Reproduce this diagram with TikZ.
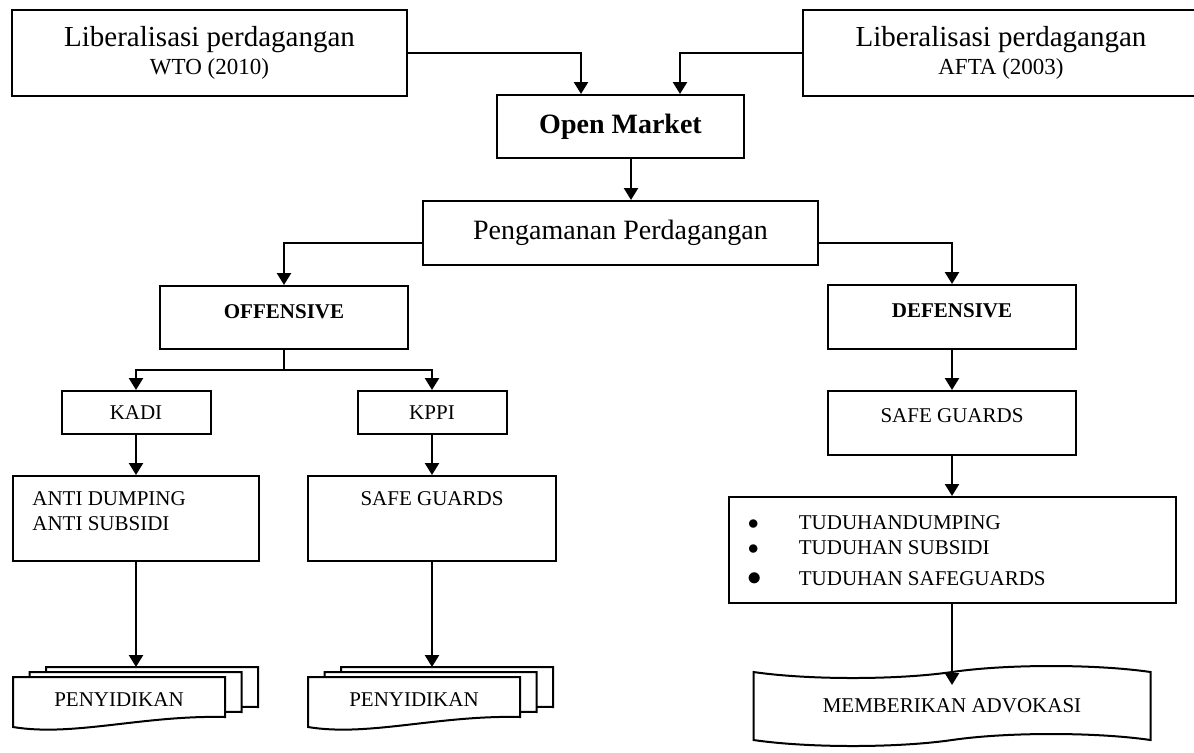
\documentclass[tikz,border=0pt]{standalone}
\usepackage{fontspec}
\setmainfont{Liberation Serif}
\usetikzlibrary{positioning,arrows.meta,shapes.symbols}

\tikzset{
  box/.style={draw, line width=1pt, inner sep=0pt, fill=white},
  sheet/.style={draw, line width=1pt, fill=white},
  lbl/.style={font=\fontsize{10.5}{12.5}\selectfont},
  lblbold/.style={font=\fontsize{10.5}{12.5}\selectfont\bfseries},
  big/.style={font=\fontsize{14.5}{14}\selectfont},
  link/.style={line width=1.2pt},
  arr/.style={link, -{Triangle[length=6pt,width=7pt]}},
}

% one page of a document stack, top left corner at (#1,#2)
\newcommand{\docsheet}[2]{%
  \draw[sheet] (#1,#2) -- ({#1+212},#2) -- ({#1+212},{#2+40})
    .. controls ({#1+130},{#2+38}) and ({#1+60},{#2+60}) .. (#1,{#2+50}) -- cycle;}

\begin{document}
\begin{tikzpicture}[x=0.5pt, y=-0.5pt]
\useasboundingbox (0,0) rectangle (1194,752);

% top row
\node[box, big, align=center, minimum width=197.5pt, minimum height=43pt] (wto) at (209.5,53)
  {Liberalisasi perdagangan\\{\fontsize{11.5}{14}\selectfont WTO (2010)}};
\node[box, big, align=center, minimum width=198pt, minimum height=43pt] (afta) at (1001,53)
  {Liberalisasi perdagangan\\{\fontsize{11.5}{14}\selectfont AFTA (2003)}};
\node[box, font=\fontsize{14}{16}\selectfont\bfseries, minimum width=123.5pt,
  minimum height=31.5pt] (open) at (620.5,126.5) {Open Market};
\node[box, font=\fontsize{14}{16}\selectfont, minimum width=197.5pt,
  minimum height=32pt] (peng) at (620.5,233) {Pengamanan Perdagangan};

% offensive side
\node[box, lblbold, text depth=6pt, minimum width=124pt, minimum height=31.5pt] (off)
  at (284,317.5) {OFFENSIVE};
\node[box, lbl, minimum width=74.5pt, minimum height=21.5pt] (kadi) at (136,412.5) {KADI};
\node[box, lbl, minimum width=74.5pt, minimum height=21.5pt] (kppi) at (432,412.5) {KPPI};
\node[box, minimum width=123pt, minimum height=42.5pt] (anti) at (136,518.5) {};
\node[lbl, align=left, inner sep=0pt, below right=8pt and 10pt of anti.north west]
  (antitext) {ANTI DUMPING\\ANTI SUBSIDI};
\node[box, minimum width=124pt, minimum height=42.5pt] (sgl) at (432,518.5) {};
\node[lbl, inner sep=0pt, below=8pt of sgl.north] (sgltext) {SAFE GUARDS};

\docsheet{46}{667} \docsheet{29.5}{672} \docsheet{13}{677}
\node[lbl] (pen1) at (119,700) {PENYIDIKAN};
\docsheet{341}{667} \docsheet{324.5}{672} \docsheet{308}{677}
\node[lbl] (pen2) at (414,700) {PENYIDIKAN};
\coordinate (pen1in) at (136,667);
\coordinate (pen2in) at (432,667);

% defensive side
\node[box, lblbold, text depth=6pt, minimum width=124pt, minimum height=32pt] (def)
  at (952,317) {DEFENSIVE};
\node[box, lbl, text depth=7pt, minimum width=124pt, minimum height=32pt] (sgr)
  at (952,423) {SAFE GUARDS};
\node[box, minimum width=223.5pt, minimum height=53pt] (tuduh) at (952,550) {};
\node[lbl, inner sep=0pt, below right=7.75pt and 10pt of tuduh.north west] (tuduhlist)
  {\begin{tabular}{@{}p{25.5pt}@{}l@{}}
    $\bullet$ & TUDUHANDUMPING\\
    $\bullet$ & TUDUHAN SUBSIDI\\[3pt]
    {\fontsize{14}{12.5}\selectfont$\bullet$} & TUDUHAN SAFEGUARDS
  \end{tabular}};
\node[draw, tape, line width=1pt, lbl, inner sep=0pt, tape bend height=6pt,
  minimum width=198.5pt, minimum height=40pt] (advok) at (952,706) {MEMBERIKAN ADVOKASI};
\coordinate (advokin) at (952,685);

% connectors
\draw[arr] (wto.east) -| ([xshift=-19.75pt]open.north);
\draw[arr] (afta.west) -| ([xshift=29.75pt]open.north);
\draw[arr] ([xshift=5.25pt]open.south) -- ([xshift=5.25pt]open.south |- peng.north);
\draw[arr] ([yshift=-5pt]peng.west) -| (off.north);
\draw[arr] ([yshift=-5pt]peng.east) -| (def.north);
\coordinate (offsplit) at (284,370);
\draw[link] (off.south) -- (offsplit);
\draw[arr] (offsplit) -| (kadi.north);
\draw[arr] (offsplit) -| (kppi.north);
\draw[arr] (kadi) -- (anti);
\draw[arr] (kppi) -- (sgl);
\draw[arr] (anti) -- (pen1in);
\draw[arr] (sgl) -- (pen2in);
\draw[arr] (def) -- (sgr);
\draw[arr] (sgr) -- (tuduh);
\draw[arr] (tuduh) -- (advokin);
\end{tikzpicture}
\end{document}
